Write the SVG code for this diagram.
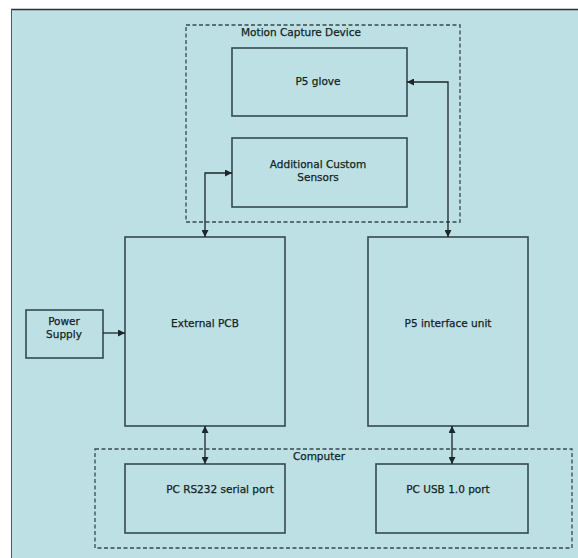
<svg xmlns="http://www.w3.org/2000/svg" width="578" height="558" viewBox="0 0 578 558">
<defs>
<marker id="ah" viewBox="0 0 10 10" refX="10" refY="5" markerWidth="7" markerHeight="7" markerUnits="userSpaceOnUse" orient="auto-start-reverse">
<path d="M0,0 L10,5 L0,10 z" fill="#1c262b"/>
</marker>
<style>
.box{fill:none;stroke:#364950;stroke-width:1.6}
.grp{fill:none;stroke:#364950;stroke-width:1.3;stroke-dasharray:4 2.5}
.t{font-family:"DejaVu Sans",Verdana,sans-serif;font-size:10.5px;fill:#151f24;text-anchor:middle;stroke:#151f24;stroke-width:0.25}
.c{fill:none;stroke:#1c262b;stroke-width:1.3}
</style>
</defs>
<rect x="0" y="0" width="578" height="558" fill="#ffffff"/>
<rect x="11" y="9" width="567" height="549" fill="#bce0e3"/>
<line x1="11" y1="9.5" x2="578" y2="9.5" stroke="#2a3236" stroke-width="1.5"/>
<line x1="11.5" y1="9" x2="11.5" y2="558" stroke="#4a5a60" stroke-width="1"/>
<g id="motion-capture-device">
<rect class="grp" x="186" y="25" width="274" height="197"/>
<text class="t" x="301" y="35.5">Motion Capture Device</text>
</g>
<g id="computer">
<rect class="grp" x="95" y="449" width="477" height="99"/>
<text class="t" x="319" y="460">Computer</text>
</g>
<g id="p5-glove">
<rect class="box" x="232" y="48" width="175" height="68"/>
<text class="t" x="318" y="85">P5 glove</text>
</g>
<g id="sensors">
<rect class="box" x="232" y="138" width="175" height="69"/>
<text class="t" x="318" y="168">Additional Custom</text>
<text class="t" x="318" y="181">Sensors</text>
</g>
<g id="power-supply">
<rect class="box" x="26" y="310" width="77" height="48"/>
<text class="t" x="64" y="325">Power</text>
<text class="t" x="64" y="338">Supply</text>
</g>
<g id="external-pcb">
<rect class="box" x="125" y="237" width="160" height="189"/>
<text class="t" x="205" y="327">External PCB</text>
</g>
<g id="p5-interface">
<rect class="box" x="368" y="237" width="160" height="189"/>
<text class="t" x="448" y="327">P5 interface unit</text>
</g>
<g id="pc-rs232">
<rect class="box" x="125" y="464" width="160" height="69"/>
<text class="t" x="220" y="493">PC RS232 serial port</text>
</g>
<g id="pc-usb">
<rect class="box" x="376" y="464" width="152" height="69"/>
<text class="t" x="448" y="493">PC USB 1.0 port</text>
</g>
<g id="connectors">
<polyline class="c" points="407,82 448,82 448,237" marker-start="url(#ah)" marker-end="url(#ah)"/>
<polyline class="c" points="232,173 205,173 205,237" marker-start="url(#ah)" marker-end="url(#ah)"/>
<line class="c" x1="103" y1="333" x2="125" y2="333" marker-end="url(#ah)"/>
<line class="c" x1="205" y1="426" x2="205" y2="464" marker-start="url(#ah)" marker-end="url(#ah)"/>
<line class="c" x1="452" y1="426" x2="452" y2="464" marker-start="url(#ah)" marker-end="url(#ah)"/>
</g>
</svg>
